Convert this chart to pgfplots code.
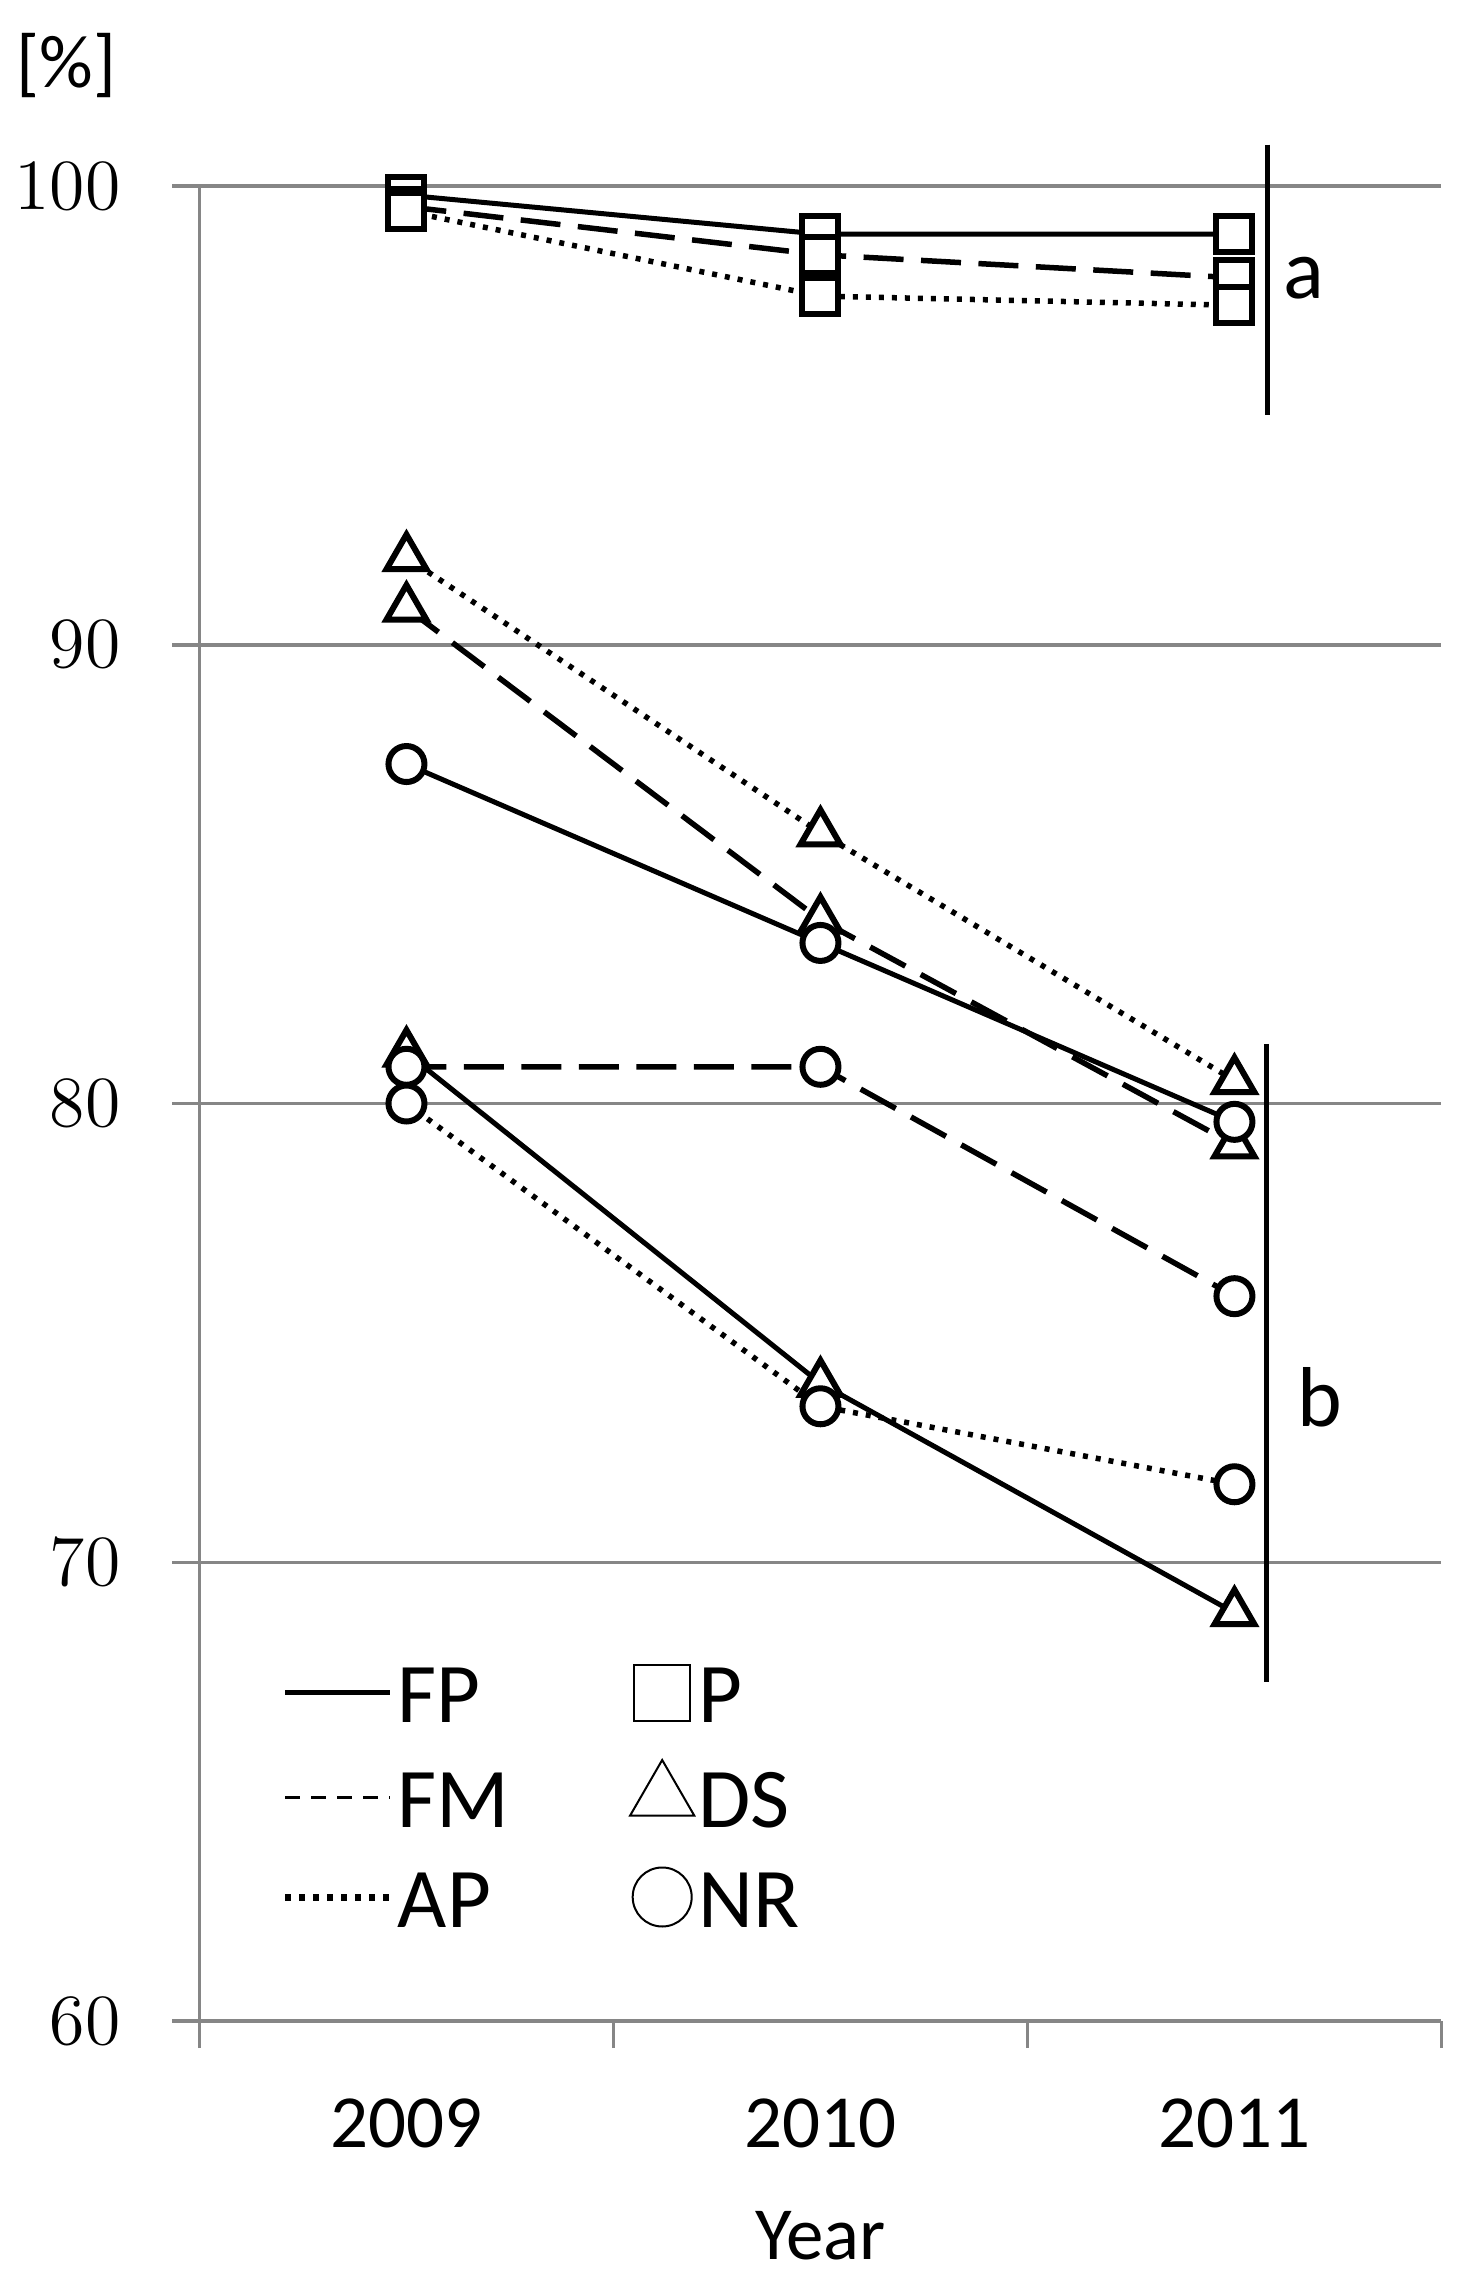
\documentclass[border=0pt]{standalone}
\usepackage{pgfplots}
\pgfplotsset{compat=1.18}
\usepackage{fontspec}
\setmainfont{Carlito}
\definecolor{gridgray}{HTML}{868686}

\pgfplotsset{
  fp/.style={black, line width=1pt, solid},
  fm/.style={black, line width=1.1pt, dash pattern=on 8pt off 3.5pt},
  ap/.style={black, line width=1.1pt, dash pattern=on 1pt off 1.6pt},
  mP/.style={mark=square*, mark size=3.6pt, mark options={solid, fill=white, draw=black, line width=1.2pt}},
  mDS/.style={mark=triangle*, mark size=4.6pt, mark options={solid, fill=white, draw=black, line width=1.2pt}},
  mNR/.style={mark=*, mark size=3.6pt, mark options={solid, fill=white, draw=black, line width=1.2pt}},
  lineleg/.style={legend image code/.code={\draw[##1] (0pt,0pt) -- (21pt,0pt);}},
  markleg/.style={legend image code/.code={\path[draw=none] (-7pt,0pt) -- (6.5pt,0pt);
      \draw[##1, only marks] plot coordinates {(0pt,0pt)};}},
}

\begin{document}
\begin{tikzpicture}
\begin{axis}[
  name=ax,
  scale only axis, width=248.4pt, height=367pt,
  xmin=-0.5, xmax=2.5, ymin=60, ymax=100,
  clip=false,
  axis lines=left,
  axis line style={-, gridgray, line width=0.7pt},
  x axis line style={line width=0.8pt},
  xtick={0,1,2}, xticklabels={2009,2010,2011},
  minor xtick={-0.5,0.5,1.5,2.5},
  ytick={60,70,80,90,100},
  ymajorgrids,
  grid style={gridgray, line width=0.7pt},
  tick align=outside,
  major tick length=5.4pt, minor tick length=5.4pt,
  tick style={gridgray, line width=0.7pt},
  major x tick style={draw=none},
  ticklabel style={font=\fontsize{15}{18}\selectfont, inner sep=0pt},
  yticklabel style={xshift=-10.2pt},
  xticklabel style={yshift=-10pt},
  xlabel={Year},
  xlabel style={font=\fontsize{15}{18}\selectfont, at={(rel axis cs:0.5,0)}, anchor=center, yshift=-43pt},
  legend columns=2,
  legend cell align=left,
  legend style={draw=none, fill=none, inner sep=0pt, outer sep=0pt,
    font=\fontsize{17}{20}\selectfont,
    at={(rel axis cs:0,0)}, anchor=south west, xshift=16.5pt, yshift=18.3pt,
    nodes={inner sep=0.5pt, text height=12pt, text depth=0pt},
    row sep=7pt,
    /tikz/every odd column/.append style={column sep=0.3pt},
    /tikz/every even column/.append style={column sep=23pt}},
]
% P (squares)
\addplot[fp, mP, forget plot] coordinates {(0,99.8) (1,98.95) (2,98.95)};
\addplot[fm, mP, forget plot] coordinates {(0,99.55) (1,98.5) (2,98.0)};
\addplot[ap, mP, forget plot] coordinates {(0,99.45) (1,97.6) (2,97.4)};
% DS (triangles)
\addplot[fp, mDS, forget plot] coordinates {(0,81.1) (1,73.9) (2,68.9)};
\addplot[fm, mDS, forget plot] coordinates {(0,90.8) (1,84.0) (2,79.1)};
\addplot[ap, mDS, forget plot] coordinates {(0,91.9) (1,85.9) (2,80.5)};
% NR (circles)
\addplot[fp, mNR, forget plot] coordinates {(0,87.4) (1,83.5) (2,79.6)};
\addplot[fm, mNR, forget plot] coordinates {(0,80.8) (1,80.8) (2,75.8)};
\addplot[ap, mNR, forget plot] coordinates {(0,80.0) (1,73.4) (2,71.7)};
% group brackets
\addplot[black, line width=1pt, forget plot] coordinates {(2.081,100.9) (2.081,95.0)};
\addplot[black, line width=1pt, forget plot] coordinates {(2.078,81.3) (2.078,67.4)};
\node[font=\fontsize{17}{20}\selectfont] at (axis cs:2.167,98.0) {a};
\node[font=\fontsize{17}{20}\selectfont] at (axis cs:2.205,73.6) {b};
\node[font=\fontsize{15}{18}\selectfont] at (rel axis cs:0,1) [xshift=-26.6pt, yshift=24pt] {[\%]};
\coordinate (O) at (rel axis cs:0,0);
% legend
\addlegendimage{fp, lineleg}
\addlegendentry{FP}
\addlegendimage{black, mark=square, mark size=5.6pt, mark options={line width=0.4pt}, markleg}
\addlegendentry{P}
\addlegendimage{black, line width=0.6pt, dash pattern=on 3pt off 2.2pt, lineleg}
\addlegendentry{FM}
\addlegendimage{black, mark=triangle, mark size=7.4pt, mark options={line width=0.4pt}, markleg}
\addlegendentry{DS}
\addlegendimage{black, line width=1.4pt, dash pattern=on 1.2pt off 1.6pt, lineleg}
\addlegendentry{AP}
\addlegendimage{black, mark=o, mark size=5.9pt, mark options={line width=0.4pt}, markleg}
\addlegendentry{NR}
\end{axis}
\path (O) ++(-39.8pt,-54.2pt) rectangle ++(293.2pt,458.4pt);
\end{tikzpicture}
\end{document}
